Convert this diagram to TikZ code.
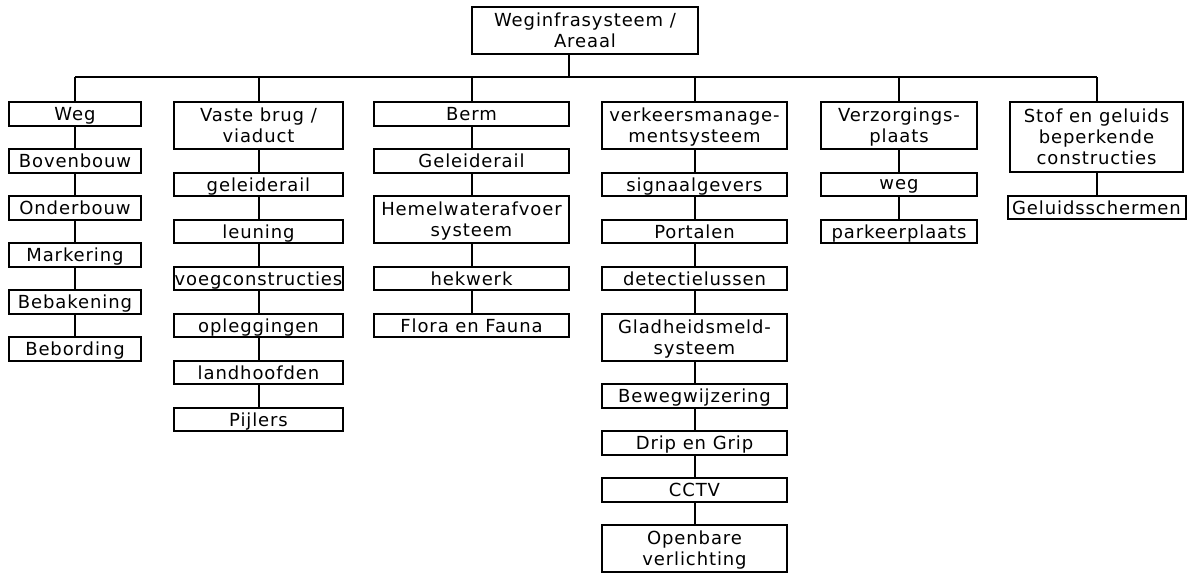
\documentclass[tikz,border=0pt]{standalone}
\usepackage{fontspec}
\setmainfont[LetterSpace=5]{DejaVu Sans}
\usetikzlibrary{positioning}
\tikzset{
 blok/.style={draw,line width=1pt,inner sep=0pt,outer sep=0pt,align=center,minimum height=11.75pt,text depth=0pt,font=\fontsize{9}{10.5}\selectfont},
 twee/.style={blok,minimum height=23.5pt},
 drie/.style={blok,minimum height=35pt},
 lijn/.style={line width=1pt}
}
\begin{document}
\begin{tikzpicture}[x=0.5pt,y=-0.5pt,node distance=11.75pt]
 \useasboundingbox (0,0) rectangle (1194,574);
 \node[twee,minimum width=113pt] (areaal) at (585,30.5) {Weginfrasysteem /\\Areaal};
 \coordinate (balk) at (569,77);
 % kolom 1
 \begin{scope}[every node/.append style={minimum width=66pt}]
 \node[blok,anchor=north] (weg) at (75,102) {Weg};
 \node[blok,below=of weg] (bovenbouw) {Bovenbouw};
 \node[blok,below=of bovenbouw] (onderbouw) {Onderbouw};
 \node[blok,below=of onderbouw] (markering) {Markering};
 \node[blok,below=of markering] (bebakening) {Bebakening};
 \node[blok,below=of bebakening] (bebording) {Bebording};
 \end{scope}
 % kolom 2
 \begin{scope}[every node/.append style={minimum width=84.5pt}]
 \node[twee,anchor=north] (brug) at (258.5,102) {Vaste brug /\\viaduct};
 \node[blok,below=of brug] (geleiderail) {geleiderail};
 \node[blok,below=of geleiderail] (leuning) {leuning};
 \node[blok,below=of leuning] (voeg) {voegconstructies};
 \node[blok,below=of voeg] (opleggingen) {opleggingen};
 \node[blok,below=of opleggingen] (landhoofden) {landhoofden};
 \node[blok,below=of landhoofden] (pijlers) {Pijlers};
 \end{scope}
 % kolom 3
 \begin{scope}[every node/.append style={minimum width=97.5pt}]
 \node[blok,anchor=north] (berm) at (471.5,102) {Berm};
 \node[blok,below=of berm] (bermrail) {Geleiderail};
 \node[twee,below=of bermrail] (hemelwater) {Hemelwaterafvoer\\systeem};
 \node[blok,below=of hemelwater] (hekwerk) {hekwerk};
 \node[blok,below=of hekwerk] (flora) {Flora en Fauna};
 \end{scope}
 % kolom 4
 \begin{scope}[every node/.append style={minimum width=92.5pt}]
 \node[twee,anchor=north] (vms) at (694.5,102) {verkeersmanage-\\mentsysteem};
 \node[blok,below=of vms] (signaal) {signaalgevers};
 \node[blok,below=of signaal] (portalen) {Portalen};
 \node[blok,below=of portalen] (lussen) {detectielussen};
 \node[twee,below=of lussen] (gladheid) {Gladheidsmeld-\\systeem};
 \node[blok,below=of gladheid] (bewegwijzering) {Bewegwijzering};
 \node[blok,below=of bewegwijzering] (drip) {Drip en Grip};
 \node[blok,below=of drip] (cctv) {CCTV};
 \node[twee,below=of cctv] (ovl) {Openbare\\verlichting};
 \end{scope}
 % kolom 5
 \begin{scope}[every node/.append style={minimum width=78pt}]
 \node[twee,anchor=north] (verzorging) at (899,102) {Verzorgings-\\plaats};
 \node[blok,below=of verzorging] (vpweg) {weg};
 \node[blok,below=of vpweg] (parkeer) {parkeerplaats};
 \end{scope}
 % kolom 6
 \node[drie,minimum width=86.5pt,anchor=north] (stof) at (1096.5,102) {Stof en geluids\\beperkende\\constructies};
 \node[blok,minimum width=89pt,below=of stof] (schermen) {Geluidsschermen};
 % verbindingen
 \draw[lijn] (balk |- areaal.south) -- (balk);
 \draw[lijn] (weg.north |- balk) -- (stof.north |- balk);
 \foreach \k in {weg,brug,berm,vms,verzorging,stof}
  \draw[lijn] (\k.north) -- (\k.north |- balk);
 \draw[lijn] (weg) -- (bovenbouw) -- (onderbouw) -- (markering) -- (bebakening) -- (bebording);
 \draw[lijn] (brug) -- (geleiderail) -- (leuning) -- (voeg) -- (opleggingen) -- (landhoofden) -- (pijlers);
 \draw[lijn] (berm) -- (bermrail) -- (hemelwater) -- (hekwerk) -- (flora);
 \draw[lijn] (vms) -- (signaal) -- (portalen) -- (lussen) -- (gladheid) -- (bewegwijzering) -- (drip) -- (cctv) -- (ovl);
 \draw[lijn] (verzorging) -- (vpweg) -- (parkeer);
 \draw[lijn] (stof) -- (schermen);
\end{tikzpicture}
\end{document}
